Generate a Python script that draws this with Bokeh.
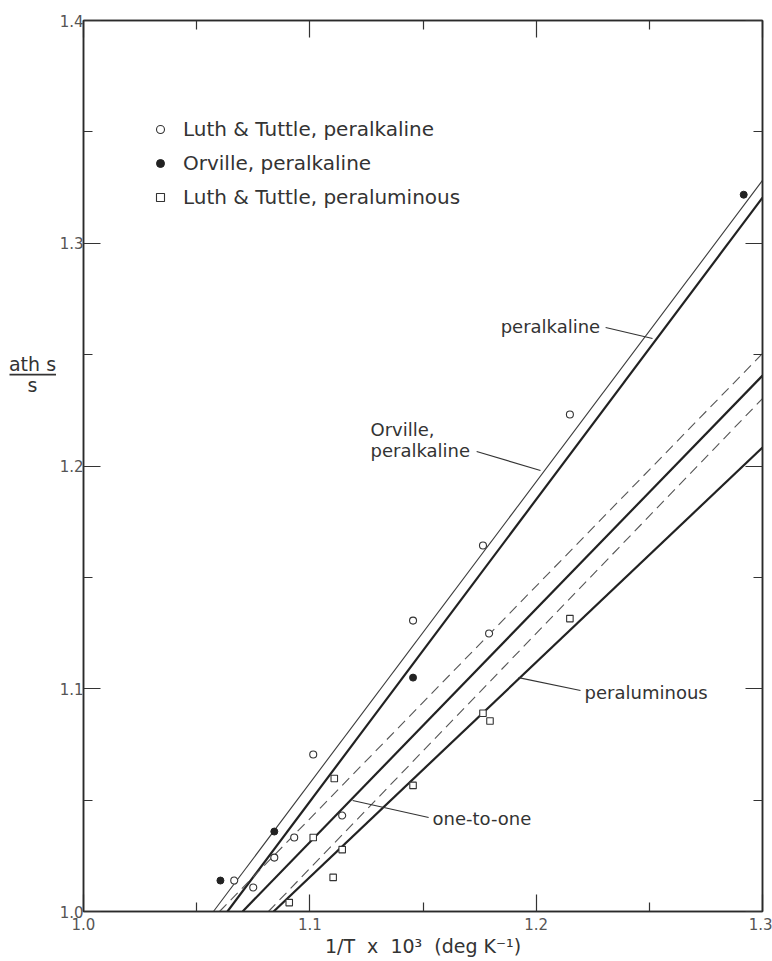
from bokeh.plotting import figure
from bokeh.layouts import row
from bokeh.models import (Range1d, FixedTicker, LinearAxis, Legend, LegendItem,
                          PrintfTickFormatter)
from bokeh.core.properties import value
from bokeh.embed import file_html
from bokeh.resources import INLINE

FONT = "DejaVu Sans"

# ---------------- data ----------------
# Luth & Tuttle, peralkaline (open circles)
lt_alk_x = [1.0666, 1.0750, 1.0843, 1.0931, 1.1143, 1.1015, 1.1456, 1.1765, 1.1792, 1.2149]
lt_alk_y = [1.0139, 1.0108, 1.0242, 1.0332, 1.0431, 1.0705, 1.1306, 1.1643, 1.1248, 1.2231]
# Orville, peralkaline (filled circles)
orv_x = [1.0605, 1.0843, 1.1456, 1.2917]
orv_y = [1.0139, 1.0359, 1.1050, 1.3218]
# Luth & Tuttle, peraluminous (open squares)
lt_alu_x = [1.0909, 1.1015, 1.1103, 1.1143, 1.1108, 1.1456, 1.1765, 1.1796, 1.2149]
lt_alu_y = [1.0040, 1.0332, 1.0153, 1.0278, 1.0597, 1.0566, 1.0890, 1.0855, 1.1315]

# straight lines: end points (x0, y0) -> (x1, y1)
line_names = ["L&T peralkaline", "Orville peralkaline", "upper bound",
              "one-to-one", "lower bound", "peraluminous"]
line_x0 = [1.0574, 1.0636, 1.0601, 1.0703, 1.0817, 1.0840]
line_y0 = [1.0, 1.0, 1.0, 1.0, 1.0, 1.0]
line_x1 = [1.3, 1.3, 1.3, 1.3, 1.3, 1.3]
line_y1 = [1.3282, 1.3205, 1.2505, 1.2406, 1.2303, 1.2083]

x_ticks = [1.0, 1.1, 1.2, 1.3]
x_minor = [1.05, 1.15, 1.25]
y_ticks = [1.0, 1.1, 1.2, 1.3, 1.4]
y_minor = [1.05, 1.15, 1.25, 1.35]

NB = "\u00a0"
x_title = "1/T" + NB + " x" + NB + " 10³" + NB + " (deg" + NB + "K⁻¹)"
y_title_top = "ath" + NB + "s"
y_title_bottom = "s"

# ---------------- main figure ----------------
p = figure(width=716, height=961, output_backend="svg", toolbar_location=None,
           x_range=Range1d(1.0, 1.3), y_range=Range1d(1.0, 1.4),
           x_axis_location=None, y_axis_location=None,
           min_border_left=27, min_border_right=10, min_border_top=20,
           min_border_bottom=50)
p.title.visible = False
p.xgrid.visible = False
p.ygrid.visible = False
p.background_fill_color = "white"
p.border_fill_color = "white"
p.outline_line_color = "#2a2a2a"
p.outline_line_width = 1.5

def make_axis(ticks, minor, show_labels, standoff):
    ax = LinearAxis(ticker=FixedTicker(ticks=ticks, minor_ticks=minor),
                    formatter=PrintfTickFormatter(format="%.1f"))
    ax.major_tick_in = 17
    ax.major_tick_out = 0
    ax.minor_tick_in = 9
    ax.minor_tick_out = 0
    ax.axis_line_color = "#2a2a2a"
    ax.axis_line_width = 1.5
    ax.major_tick_line_color = "#333333"
    ax.minor_tick_line_color = "#333333"
    ax.major_tick_line_width = 1.2
    ax.minor_tick_line_width = 1.2
    if show_labels:
        ax.major_label_text_font = FONT
        ax.major_label_text_font_size = "15px"
        ax.major_label_text_color = "#555555"
        ax.major_label_standoff = standoff
    else:
        ax.major_label_text_font_size = "0px"
        ax.major_label_text_color = None
        ax.major_label_standoff = 0
    return ax

xb = make_axis(x_ticks, x_minor, True, 6)
xb.axis_label = x_title
xb.axis_label_text_font = FONT
xb.axis_label_text_font_size = "19px"
xb.axis_label_text_font_style = "normal"
xb.axis_label_text_color = "#333333"
xb.axis_label_standoff = 2
p.add_layout(xb, "below")
p.add_layout(make_axis(y_ticks, y_minor, True, 0), "left")
p.add_layout(make_axis(x_ticks, x_minor, False, 0), "above")
p.add_layout(make_axis(y_ticks, y_minor, False, 0), "right")

# ---------------- lines ----------------
styles = [
    dict(line_width=1.1, line_color="#3a3a3a", line_dash="solid"),
    dict(line_width=2.2, line_color="#222222", line_dash="solid"),
    dict(line_width=1.1, line_color="#555555", line_dash="10 6"),
    dict(line_width=2.2, line_color="#222222", line_dash="solid"),
    dict(line_width=1.1, line_color="#555555", line_dash="10 6"),
    dict(line_width=2.2, line_color="#222222", line_dash="solid"),
]
for i in range(len(line_names)):
    p.line([line_x0[i], line_x1[i]], [line_y0[i], line_y1[i]], **styles[i])

# ---------------- points ----------------
r1 = p.scatter(lt_alk_x, lt_alk_y, marker="circle", size=7,
               fill_color="white", line_color="#333333", line_width=1.1)
r2 = p.scatter(orv_x, orv_y, marker="circle", size=7,
               fill_color="#222222", line_color="#222222", line_width=1)
r3 = p.scatter(lt_alu_x, lt_alu_y, marker="square", size=6.5,
               fill_color="white", line_color="#333333", line_width=1.1)

legend = Legend(items=[
    LegendItem(label="Luth & Tuttle, peralkaline", renderers=[r1]),
    LegendItem(label="Orville, peralkaline", renderers=[r2]),
    LegendItem(label="Luth & Tuttle, peraluminous", renderers=[r3]),
], location=(67, 702))
legend.border_line_color = None
legend.background_fill_alpha = 0
legend.padding = 0
legend.margin = 0
legend.spacing = 10
legend.glyph_width = 20
legend.glyph_height = 20
legend.label_height = 20
legend.label_standoff = 13
legend.label_text_font = FONT
legend.label_text_font_size = "20px"
legend.label_text_color = "#333333"
p.add_layout(legend, "center")

# ---------------- curve labels with leader lines ----------------
lab_text = ["peralkaline", "Orville,", "peralkaline", "one-to-one", "peraluminous"]
lab_x = [1.1843, 1.1268, 1.1268, 1.1542, 1.2214]
lab_y = [1.2626, 1.2164, 1.2070, 1.0418, 1.0983]
p.text(x=lab_x, y=lab_y, text=lab_text, text_font=value(FONT),
       text_font_size="18px", text_color="#333333",
       text_baseline="middle", text_align="left")

lead_x0 = [1.2307, 1.1737, 1.1189, 1.2196]
lead_y0 = [1.2622, 1.2065, 1.0498, 1.0992]
lead_x1 = [1.2514, 1.2019, 1.1525, 1.1922]
lead_y1 = [1.2572, 1.1980, 1.0422, 1.1050]
p.segment(x0=lead_x0, y0=lead_y0, x1=lead_x1, y1=lead_y1,
          line_color="#333333", line_width=1.1)

# ---------------- y-axis title panel (fraction "ath s / s") ----------------
lf = figure(width=56, height=961, output_backend="svg", toolbar_location=None,
            x_range=Range1d(0, 56), y_range=Range1d(961, 0),
            x_axis_location=None, y_axis_location=None,
            min_border_left=0, min_border_right=0, min_border_top=0,
            min_border_bottom=0)
lf.title.visible = False
lf.xgrid.visible = False
lf.ygrid.visible = False
lf.outline_line_color = None
lf.background_fill_color = "white"
lf.border_fill_color = "white"
lf.text(x=[32], y=[371], text=[y_title_top], text_font=value(FONT),
        text_font_size="19px", text_color="#333333",
        text_baseline="middle", text_align="center")
lf.segment(x0=[9], y0=[382], x1=[56], y1=[382], line_color="#333333",
           line_width=1.8)
lf.text(x=[32], y=[393], text=[y_title_bottom], text_font=value(FONT),
        text_font_size="19px", text_color="#333333",
        text_baseline="middle", text_align="center")

layout = row(lf, p)
open("out.html", "w").write(file_html(layout, INLINE))
